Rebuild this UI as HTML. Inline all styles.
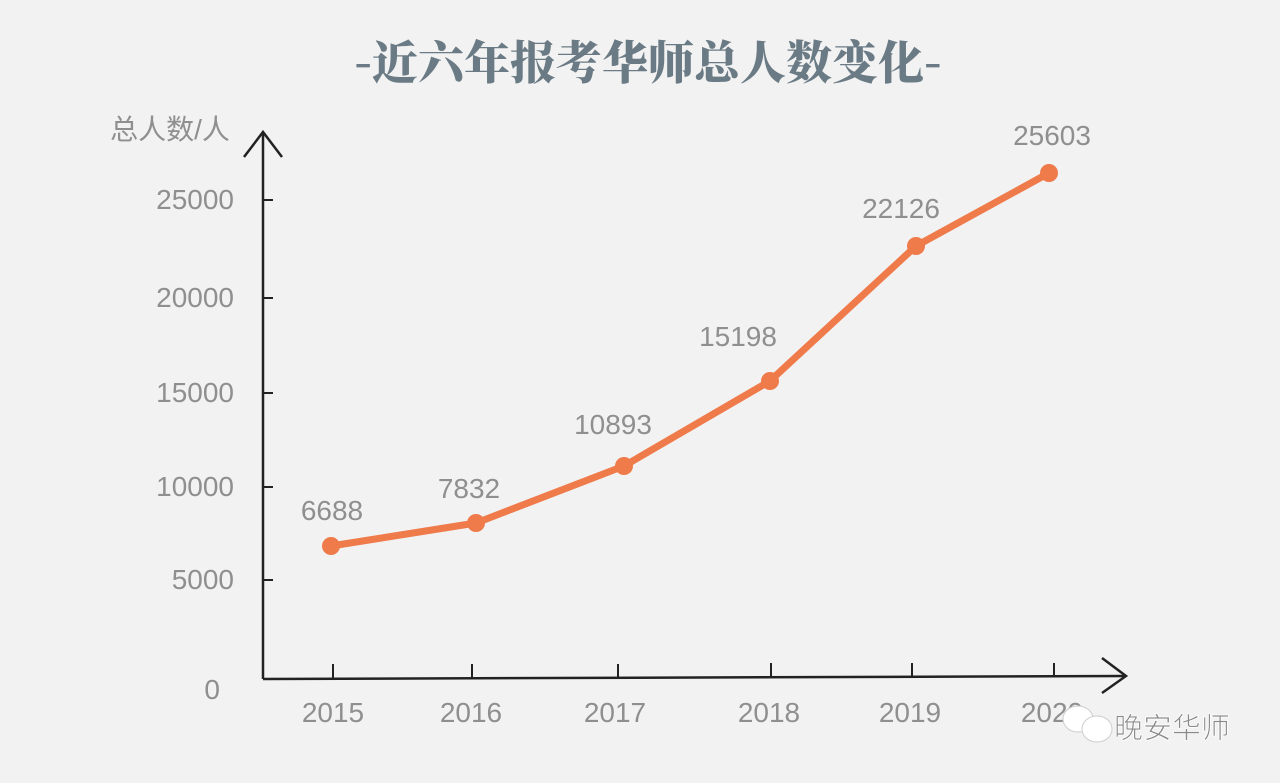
<!DOCTYPE html>
<html><head><meta charset="utf-8"><style>
body{margin:0;background:#f2f2f2;}
svg{display:block}
</style></head><body>
<svg width="1280" height="783" xmlns="http://www.w3.org/2000/svg">
<rect width="1280" height="783" fill="#f2f2f2"/>
<text x="648" y="79" text-anchor="middle" font-family="'Noto Serif CJK SC',serif" font-weight="900" font-size="46" fill="#6b7b85">-近六年报考华师总人数变化-</text>
<text x="170" y="139" text-anchor="middle" font-family="'Liberation Sans','Noto Sans CJK SC',sans-serif" font-size="28" fill="#8f8f8f">总人数/人</text>
<g stroke="#222" stroke-width="2.5" fill="none">
<line x1="263" y1="132" x2="263" y2="679"/>
<polyline points="244,157 263,132 282,157"/>
<line x1="263" y1="679" x2="1125" y2="676"/>
<polyline points="1102,658 1126,676 1102,693"/>
</g>
<g stroke="#222" stroke-width="2">
<line x1="263" y1="200" x2="273" y2="200"/>
<line x1="263" y1="298" x2="273" y2="298"/>
<line x1="263" y1="393" x2="273" y2="393"/>
<line x1="263" y1="487" x2="273" y2="487"/>
<line x1="263" y1="580" x2="273" y2="580"/>
<line x1="333" y1="678" x2="333" y2="664"/>
<line x1="472" y1="678" x2="472" y2="664"/>
<line x1="618" y1="678" x2="618" y2="664"/>
<line x1="771" y1="677" x2="771" y2="663"/>
<line x1="912" y1="677" x2="912" y2="663"/>
<line x1="1054" y1="677" x2="1054" y2="663"/>
</g>
<g font-family="'Liberation Sans',sans-serif" font-size="28" fill="#8f8f8f" text-anchor="end">
<text x="234" y="209">25000</text>
<text x="234" y="307">20000</text>
<text x="234" y="402">15000</text>
<text x="234" y="496">10000</text>
<text x="234" y="589">5000</text>
<text x="220" y="699">0</text>
</g>
<g font-family="'Liberation Sans',sans-serif" font-size="28" fill="#8f8f8f" text-anchor="middle">
<text x="333" y="722">2015</text>
<text x="471" y="722">2016</text>
<text x="615" y="722">2017</text>
<text x="769" y="722">2018</text>
<text x="910" y="722">2019</text>
<text x="1052" y="722">2020</text>
<text x="332" y="520">6688</text>
<text x="469" y="498">7832</text>
<text x="613" y="434">10893</text>
<text x="738" y="346">15198</text>
<text x="901" y="218">22126</text>
<text x="1052" y="145">25603</text>
</g>
<polyline points="331,546 476,523 624,466 770,381 916,246 1049,173" fill="none" stroke="#ef7a4a" stroke-width="7" stroke-linejoin="round"/>
<g fill="#ef7a4a">
<circle cx="331" cy="546" r="9"/><circle cx="476" cy="523" r="9"/><circle cx="624" cy="466" r="9"/>
<circle cx="770" cy="381" r="9"/><circle cx="916" cy="246" r="9"/><circle cx="1049" cy="173" r="9"/>
</g>
<g fill="#fff" stroke="#ccc" stroke-width="1">
<ellipse cx="1078" cy="719" rx="15" ry="13"/>
<ellipse cx="1097" cy="729" rx="15" ry="13"/>
</g>
<text x="1114" y="738" font-family="'Liberation Sans','Noto Sans CJK SC',sans-serif" font-size="29" fill="#8a8a8a" stroke="#fff" stroke-width="0.8">晚安华师</text>
</svg>
</body></html>
